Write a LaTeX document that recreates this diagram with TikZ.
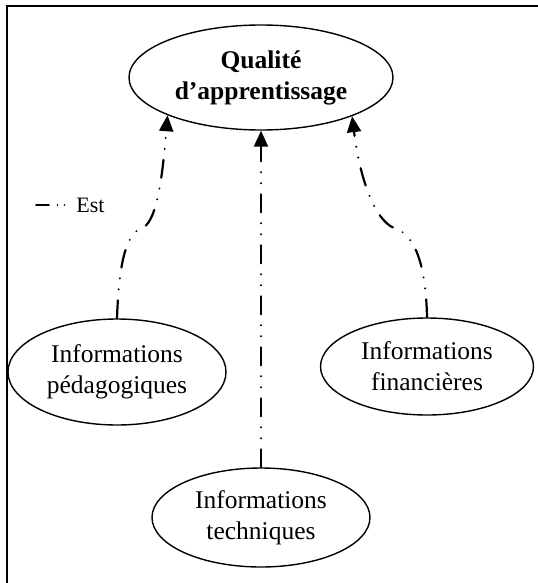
\documentclass[tikz,border=0pt]{standalone}
\usepackage{fontspec}
\setmainfont{Liberation Serif}
\usetikzlibrary{arrows.meta, positioning, shapes.geometric}

\begin{document}
\begin{tikzpicture}[x=0.5pt, y=-0.5pt,
  bulle/.style={ellipse, draw, line width=0.7pt, inner sep=0pt, align=center, font=\fontsize{12.75}{15.5}\selectfont},
  lien/.style={line width=1.1pt, line cap=round, dash pattern=on 9pt off 5.5pt on 0pt off 5.5pt on 0pt off 5.5pt, -{Triangle[length=8pt, width=7pt]}}]
\useasboundingbox (0,0) rectangle (537,583);
\draw[line width=1pt] (7,600) -- (7,6) -- (560,6);
\node [bulle, minimum width=132pt, minimum height=52.5pt, font=\bfseries\fontsize{12.75}{15.5}\selectfont] (qualite) at (261,77.5) {Qualité\\d’apprentissage};
\node [bulle, minimum width=109pt, minimum height=53pt] (peda) at (117,372) {Informations\\pédagogiques};
\node [bulle, minimum width=106.5pt, minimum height=48.5pt] (fin) at (427,366.5) {Informations\\financières};
\node [bulle, minimum width=109pt, minimum height=49.5pt] (tech) at (261,517.5) {Informations\\techniques};
\draw[lien] (peda.north) .. controls (119,262) and (126,232) .. (144,227) .. controls (158,218) and (163,170) .. (qualite.202.5);
\draw[lien] (tech.north) -- (qualite.south);
\draw[lien] (fin.north) .. controls (426,268) and (416,234) .. (394,228) .. controls (375,220) and (360,180) .. (qualite.337.5);
% legende
\node [right, inner sep=0pt, font=\fontsize{11}{13}\selectfont] (est) at (76,205) {Est};
\coordinate (debut) at (36,205);
\draw[line width=0.9pt, line cap=round, dash pattern=on 6.5pt off 4.2pt on 0pt off 3.5pt on 0pt off 10pt] (debut) -- ([xshift=-5pt]est.west);
\end{tikzpicture}
\end{document}
